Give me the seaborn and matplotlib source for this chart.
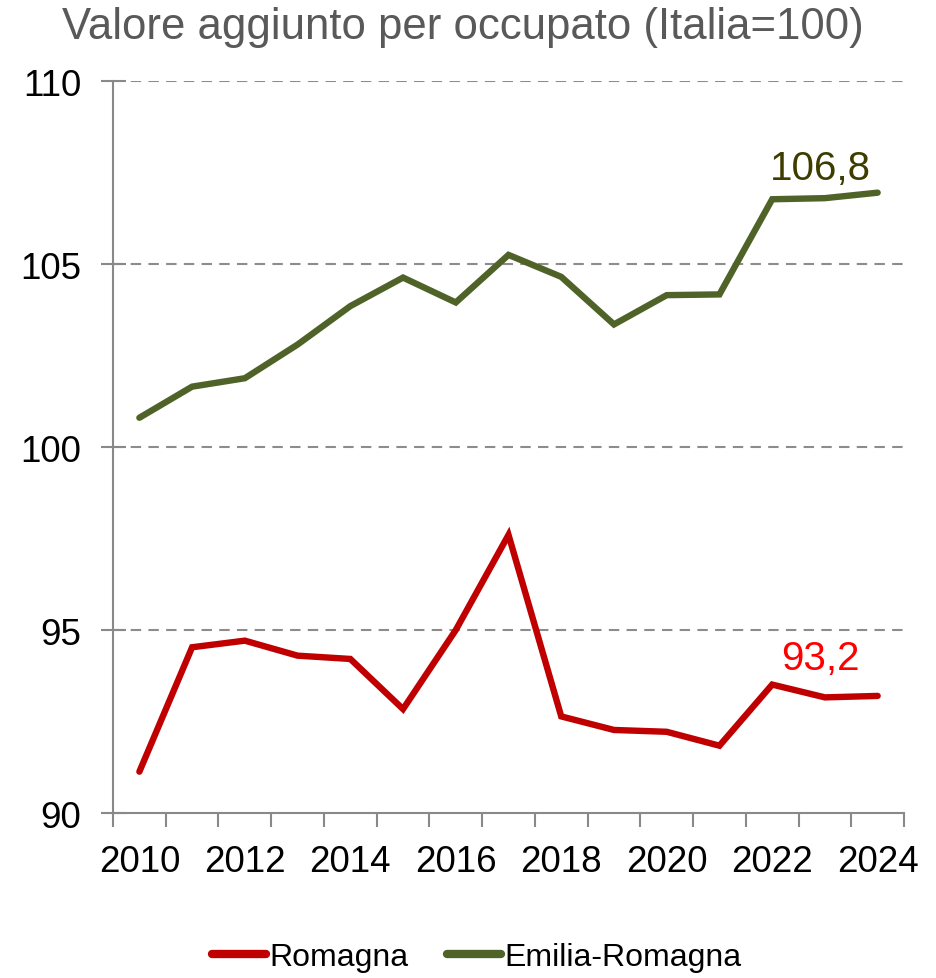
import matplotlib
matplotlib.use("Agg")
import matplotlib.pyplot as plt
import seaborn as sns
import pandas as pd

years = list(range(2010, 2025))
romagna = [91.13, 94.53, 94.71, 94.30, 94.21, 92.84, 95.00, 97.60, 92.64, 92.27, 92.22, 91.84, 93.51, 93.16, 93.20]
emilia_romagna = [100.80, 101.65, 101.88, 102.80, 103.85, 104.63, 103.95, 105.25, 104.65, 103.35, 104.15, 104.17, 106.77, 106.80, 106.95]
series_names = ["Romagna", "Emilia-Romagna"]
series_colors = ["#C00000", "#4F6228"]
label_colors = ["#FF0000", "#3D3D00"]
label_year = 2023
y_ticks = [90, 95, 100, 105, 110]
title = "Valore aggiunto per occupato (Italia=100)"

df = pd.concat([
    pd.DataFrame({"anno": years, "valore": romagna, "area": series_names[0]}),
    pd.DataFrame({"anno": years, "valore": emilia_romagna, "area": series_names[1]}),
])

sns.set_theme(style="white")
plt.rcParams["font.family"] = ["Liberation Sans", "DejaVu Sans"]

fig = plt.figure(figsize=(9.37, 9.79), dpi=100)
ax = fig.add_axes([0.1206, 0.1685, 0.9648 - 0.1206, 0.9162 - 0.1685])

sns.lineplot(data=df, x="anno", y="valore", hue="area", hue_order=series_names,
             palette=series_colors, linewidth=4.6, ax=ax, legend=True,
             solid_capstyle="round", solid_joinstyle="miter")

ax.set_xlim(years[0] - 0.5, years[-1] + 0.5)
ax.set_ylim(y_ticks[0], y_ticks[-1])

# category boundaries carry the tick marks, even years carry the labels
ax.set_xticks([y - 0.5 for y in years] + [years[-1] + 0.5])
ax.set_xticklabels([])
ax.set_xticks(years[::2], minor=True)
ax.set_xticklabels([str(y) for y in years[::2]], minor=True)
ax.tick_params(axis="x", which="major", direction="out", length=10, width=1.5,
               color="#898989", bottom=True)
ax.tick_params(axis="x", which="minor", length=0, pad=22, labelsize=26.5,
               labelcolor="black", bottom=True)

ax.set_yticks(y_ticks)
ax.set_yticklabels([str(v) for v in y_ticks])
ax.tick_params(axis="y", direction="inout", length=18, width=1.5, color="#898989",
               labelsize=26.5, labelcolor="black", pad=14, left=True)

for v in y_ticks[1:]:
    ax.axhline(v, color="#8C8C8C", linewidth=1.5, linestyle=(0, (5, 3.5)), zorder=0)

for side in ["top", "right"]:
    ax.spines[side].set_visible(False)
for side in ["left", "bottom"]:
    ax.spines[side].set_color("#898989")
    ax.spines[side].set_linewidth(1.5)

ax.set_xlabel("")
ax.set_ylabel("")

# value labels above the 2023 points
idx = years.index(label_year)
for vals, col, dy in [(romagna, label_colors[0], 28), (emilia_romagna, label_colors[1], 19)]:
    v = vals[idx]
    ax.annotate(f"{v:.1f}".replace(".", ","), xy=(label_year, v),
                xytext=(-5, dy), textcoords="offset pixels",
                ha="center", va="baseline", fontsize=29, color=col)

fig.text(0.494, 0.972, title, ha="center", va="center", fontsize=31.5, color="#595959")

handles, labels = ax.get_legend_handles_labels()
for h in handles:
    h.set_linewidth(6)
    h.set_solid_capstyle("round")
leg = ax.legend(handles, labels, loc="center", bbox_to_anchor=(0.509, 0.021),
                bbox_transform=fig.transFigure, ncol=2, frameon=False, fontsize=23,
                handlelength=1.7, handletextpad=0.1, columnspacing=1.2)
for t in leg.get_texts():
    t.set_color("black")

fig.savefig("out.png", dpi=100)
